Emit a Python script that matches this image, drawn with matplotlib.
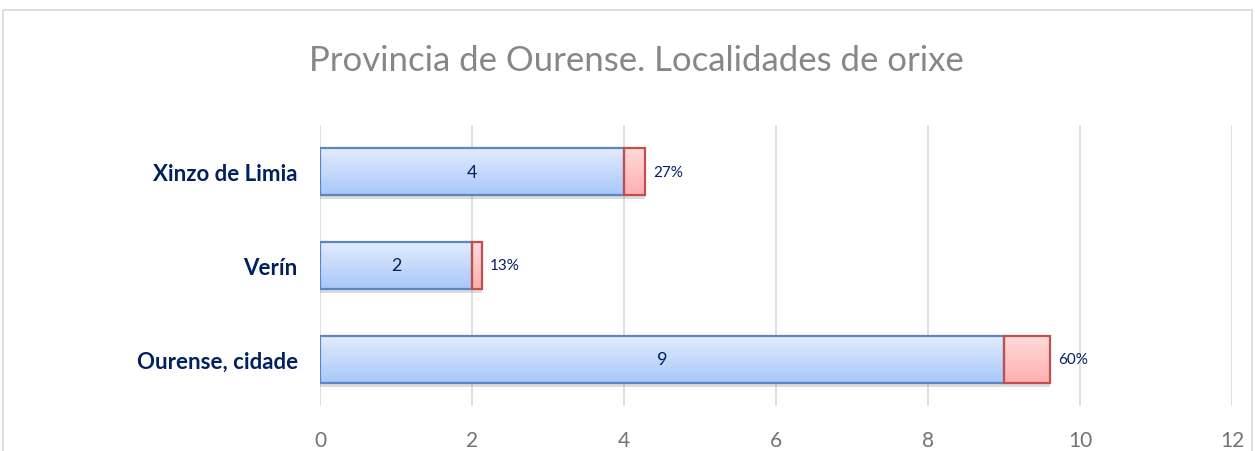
import matplotlib.pyplot as plt
import matplotlib.patheffects as pe
import numpy as np
from matplotlib.colors import LinearSegmentedColormap
from matplotlib.patches import Rectangle

# datos
localidades = ["Ourense, cidade", "Verín", "Xinzo de Limia"]
casos = [9, 2, 4]
porcentaxes = [60, 13, 27]
xticks = [0, 2, 4, 6, 8, 10, 12]
titulo = "Provincia de Ourense. Localidades de orixe"

plt.rcParams['font.family'] = ['Lato', 'DejaVu Sans']

fig = plt.figure(figsize=(12.55, 4.52), dpi=100)
ax = fig.add_axes([0.255, 0.0996, 0.7267, 0.6217])

y = np.arange(len(localidades))
frac = np.array(porcentaxes) / 100

sombra = [pe.SimplePatchShadow(offset=(0, -3), shadow_rgbFace='#8c8c8c', alpha=0.3), pe.Normal()]
azul = ax.barh(y, casos, height=0.5, color='#C9DCFB', linewidth=0, path_effects=sombra, zorder=3)
verm = ax.barh(y, frac, left=casos, height=0.5, color='#FFC8C8', linewidth=0, path_effects=sombra, zorder=3)


def gradiente(barras, arriba, abaixo):
    cmap = LinearSegmentedColormap.from_list('g', [abaixo, arriba])
    grad = np.linspace(0, 1, 100).reshape(-1, 1)
    for b in barras:
        x0, y0 = b.get_x(), b.get_y()
        im = ax.imshow(grad, cmap=cmap, origin='lower', aspect='auto', interpolation='bilinear',
                       extent=[x0, x0 + b.get_width(), y0, y0 + b.get_height()], zorder=3.5)
        im.set_clip_path(b)


gradiente(azul, '#E2ECFD', '#A8C7F9')
gradiente(verm, '#FFDADA', '#FFAFAF')

# bordes por riba do degradado
ax.barh(y, casos, height=0.5, fill=False, edgecolor='#5A86C4', linewidth=1.6, zorder=4)
ax.barh(y, frac, left=casos, height=0.5, fill=False, edgecolor='#C0504D', linewidth=1.6, zorder=4)

for i in range(len(localidades)):
    ax.text(casos[i] / 2, y[i], str(casos[i]), ha='center', va='center',
            fontsize=13, color='#002060', zorder=5)
    ax.annotate(f"{porcentaxes[i]}%", (casos[i] + frac[i], y[i]), xytext=(6, 0),
                textcoords='offset points', ha='left', va='center', fontsize=11, color='#002060')

ax.set_xlim(0, 12)
ax.set_ylim(-0.5, 2.5)
ax.set_xticks(xticks)
ax.set_yticks(y)
ax.set_yticklabels(localidades, fontweight='bold', color='#002060', fontsize=16)
ax.tick_params(axis='x', length=0, pad=17, labelsize=15, labelcolor='#737373')
ax.tick_params(axis='y', length=0, pad=16)
ax.grid(axis='x', color='#D9D9D9', linewidth=1.2, zorder=0)
ax.set_axisbelow(True)
for s in ax.spines.values():
    s.set_visible(False)

fig.text(0.507, 0.866, titulo, ha='center', va='center', fontsize=25,
         color='#878787')

fig.add_artist(Rectangle((3 / 1255, -0.2), 1249 / 1255, 1.1757, transform=fig.transFigure,
                         fill=False, edgecolor='#D9D9D9', linewidth=1.2))

fig.savefig("out.png", dpi=100)
